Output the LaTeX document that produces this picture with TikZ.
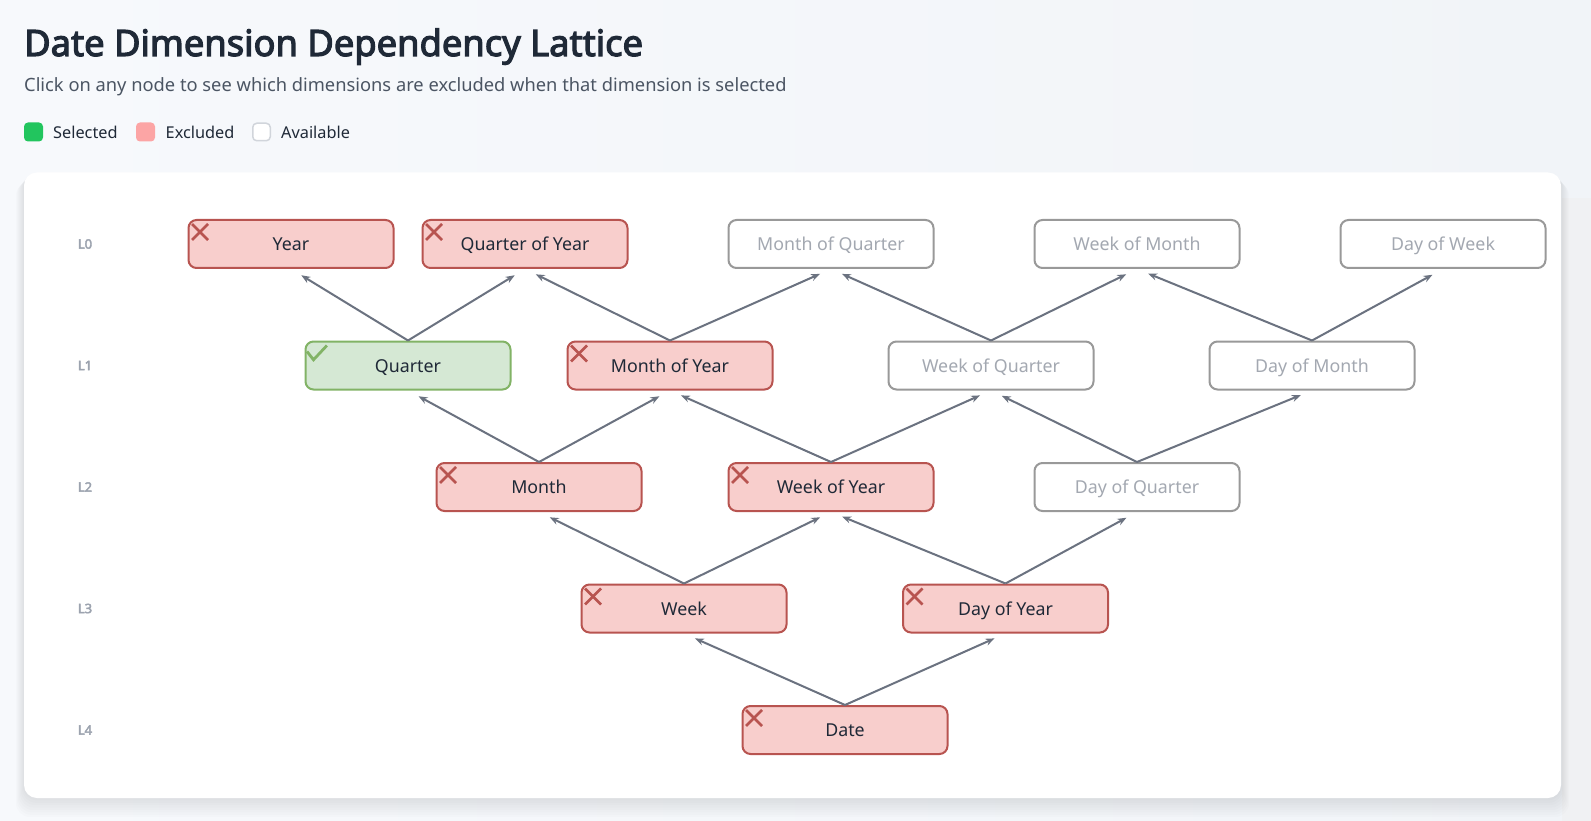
\documentclass[tikz,border=0pt]{standalone}
\usepackage{fontspec}
\setmainfont{Noto Sans}[AutoFakeBold=3.2]
\usetikzlibrary{arrows.meta}

\definecolor{pagebg}{HTML}{F7F9FC}
\definecolor{pagebgr}{HTML}{F1F4F8}
\definecolor{titlefg}{HTML}{1F2937}
\definecolor{subfg}{HTML}{4B5563}
\definecolor{levelfg}{HTML}{9CA3AF}
\definecolor{edgefg}{HTML}{6B7280}
\definecolor{exfill}{HTML}{F8CECC}
\definecolor{exdraw}{HTML}{B85450}
\definecolor{selfill}{HTML}{D5E8D4}
\definecolor{seldraw}{HTML}{82B366}
\definecolor{avdraw}{HTML}{999999}
\definecolor{avtext}{HTML}{A3A8B1}
\definecolor{legsel}{HTML}{22C55E}
\definecolor{legex}{HTML}{FCA5A5}
\definecolor{legav}{HTML}{D1D5DB}

\tikzset{
  dim/.style={rounded corners=8pt, line width=2pt, minimum width=205pt, minimum height=48pt,
    inner sep=0pt, text height=15pt, text depth=2pt, font=\fontsize{17.8}{21}\selectfont},
  excluded/.style={dim, fill=exfill, draw=exdraw, text=titlefg},
  selected/.style={dim, fill=selfill, draw=seldraw, text=titlefg},
  available/.style={dim, fill=white, draw=avdraw, text=avtext},
  dep/.style={-{Stealth[length=9pt,width=7pt]}, line width=2pt, draw=edgefg, shorten >=12pt},
  level/.style={font=\bfseries\fontsize{13}{15}\selectfont, text=levelfg},
  legendbox/.style={rounded corners=4pt, minimum size=19pt, inner sep=0pt},
  legendtext/.style={anchor=west, text=titlefg, font=\fontsize{16.3}{19}\selectfont, inner sep=0pt},
}

% marks in the top left corner of a node
\newcommand\crossmark[1]{%
  \draw[exdraw, line width=2.8pt] ([shift={(4.5pt,-5pt)}]#1.north west) -- ++(16pt,-16pt);
  \draw[exdraw, line width=2.8pt] ([shift={(20.5pt,-5pt)}]#1.north west) -- ++(-16pt,-16pt);}
\newcommand\tickmark[1]{%
  \draw[seldraw, line width=2.8pt] ([shift={(2.5pt,-11pt)}]#1.north west) -- ++(6.5pt,-8.3pt) -- ++(13.4pt,14.3pt);}

\begin{document}
\begin{tikzpicture}[x=1pt, y=-1pt]
  \useasboundingbox (0,0) rectangle (1591,821);
  \shade[left color=pagebg, right color=pagebgr] (0,0) rectangle (1591,821);
  \fill[pagebgr!80!gray!40] (1562,198) rectangle (1591,821);

  % title and legend
  \node[anchor=base west, inner sep=0pt, text=titlefg, font=\bfseries\fontsize{36.3}{41}\selectfont] (title) at (24,56) {Date Dimension Dependency Lattice};
  \node[anchor=base west, inner sep=0pt, text=subfg, font=\fontsize{18.3}{22}\selectfont] (subtitle) at (24,92) {Click on any node to see which dimensions are excluded when that dimension is selected};
  \node[legendbox, fill=legsel] (lsel) at (33.5,132) {};
  \node[legendtext] (lseltext) at (53,132) {Selected};
  \node[legendbox, fill=legex] (lex) at (145.5,132) {};
  \node[legendtext] (lextext) at (165.5,132) {Excluded};
  \node[legendbox, fill=white, draw=legav, line width=1.5pt, minimum size=17.5pt] (lav) at (261.5,132) {};
  \node[legendtext] (lavtext) at (281,132) {Available};

  % panel with its shadow
  \foreach \s in {1,...,8}
    \fill[black, opacity=0.012, rounded corners=14pt] (24-\s,172+\s*1.2) rectangle (1561+\s,798+\s*2.4);
  \fill[white, rounded corners=13pt] (24,172.5) rectangle (1561,798);

  % levels
  \node[level] (l0) at (85,244) {L0};
  \node[level] (l1) at (85,365.5) {L1};
  \node[level] (l2) at (85,487) {L2};
  \node[level] (l3) at (85,608.5) {L3};
  \node[level] (l4) at (85,730) {L4};

  % dimensions
  \node[excluded] (year) at (291,244) {Year};
  \node[excluded] (qoy) at (525,244) {Quarter of Year};
  \node[available] (moq) at (831,244) {Month of Quarter};
  \node[available] (wom) at (1137,244) {Week of Month};
  \node[available] (dow) at (1443,244) {Day of Week};
  \node[selected] (quarter) at (408,365.5) {Quarter};
  \node[excluded] (moy) at (670,365.5) {Month of Year};
  \node[available] (woq) at (991,365.5) {Week of Quarter};
  \node[available] (dom) at (1312,365.5) {Day of Month};
  \node[excluded] (month) at (539,487) {Month};
  \node[excluded] (woy) at (831,487) {Week of Year};
  \node[available] (doq) at (1137,487) {Day of Quarter};
  \node[excluded] (week) at (684,608.5) {Week};
  \node[excluded] (doy) at (1005.5,608.5) {Day of Year};
  \node[excluded] (date) at (845,730) {Date};

  \foreach \n in {year,qoy,moy,month,woy,week,doy,date}{
    \crossmark{\n}
  }
  \tickmark{quarter}

  % dependencies
  \foreach \child/\parent in {quarter/year, quarter/qoy, moy/qoy, moy/moq, woq/moq, woq/wom,
      dom/wom, dom/dow, month/quarter, month/moy, woy/moy, woy/woq, doq/woq, doq/dom,
      week/month, week/woy, doy/woy, doy/doq, date/week, date/doy}
    \draw[dep] (\child.north) -- (\parent.south);
\end{tikzpicture}
\end{document}
